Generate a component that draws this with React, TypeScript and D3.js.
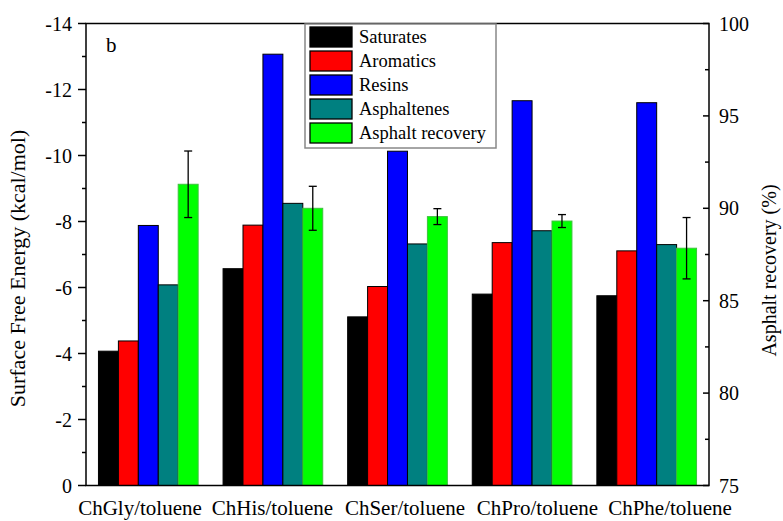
import React from "react";
import * as d3 from "d3";

const categories = ["ChGly/toluene", "ChHis/toluene", "ChSer/toluene", "ChPro/toluene", "ChPhe/toluene"];
const saturates = [-4.07, -6.57, -5.11, -5.80, -5.75];
const aromatics = [-4.38, -7.89, -6.03, -7.36, -7.11];
const resins = [-7.88, -13.07, -10.13, -11.66, -11.60];
const asphaltenes = [-6.08, -8.55, -7.32, -7.72, -7.30];
const recovery = [91.3, 90.0, 89.55, 89.31, 87.84];
const recoveryErr = [1.8, 1.19, 0.43, 0.35, 1.66];
const leftTicks = [0, -2, -4, -6, -8, -10, -12, -14];
const rightTicks = [75, 80, 85, 90, 95, 100];
const seriesNames = ["Saturates", "Aromatics", "Resins", "Asphaltenes", "Asphalt recovery"];
const seriesColors = ["#000000", "#ff0000", "#0000ff", "#008080", "#00ff00"];

const W = 783;
const H = 521;
const FONT = "'Liberation Serif', 'Times New Roman', serif";

export default function App() {
  const left = 86, right = 709, top = 23.5, bottom = 485.5;
  const x = d3.scaleBand<string>().domain(categories).range([left, right]).paddingInner(0.2).paddingOuter(0.1);
  const inner = d3.scaleBand<number>().domain([0, 1, 2, 3, 4]).range([0, x.bandwidth()]);
  const yL = d3.scaleLinear().domain([0, -14]).range([bottom, top]);
  const yR = d3.scaleLinear().domain([75, 100]).range([bottom, top]);
  const labelX = d3.scalePoint<string>().domain(categories).range([left + 54, right - 39]);

  const energySeries = [saturates, aromatics, resins, asphaltenes];
  const leftMinor = d3.range(-1, -14, -2);
  const rightMinor = d3.range(77.5, 100, 5);

  return (
    <svg width={W} height={H} style={{ position: "absolute", left: 0, top: 0, background: "#fff" }} fontFamily={FONT}>
      <rect x={0} y={0} width={W} height={H} fill="#fff" />
      {/* bars */}
      {categories.map((c, i) => (
        <g key={c} transform={`translate(${x(c)},0)`}>
          {energySeries.map((s, k) => (
            <rect key={k} x={inner(k)} y={yL(s[i])} width={inner.bandwidth()} height={yL(0) - yL(s[i])}
              fill={seriesColors[k]} stroke="#000" strokeWidth={1} />
          ))}
          <rect x={inner(4)} y={yR(recovery[i])} width={inner.bandwidth()} height={yR(75) - yR(recovery[i])}
            fill={seriesColors[4]} stroke="#3cc43c" strokeWidth={1} />
          {(() => {
            const cx = (inner(4) as number) + inner.bandwidth() / 2;
            const y1 = yR(recovery[i] + recoveryErr[i]);
            const y2 = yR(recovery[i] - recoveryErr[i]);
            return (
              <g stroke="#000" strokeWidth={1.3}>
                <line x1={cx} x2={cx} y1={y1} y2={y2} />
                <line x1={cx - 4} x2={cx + 4} y1={y1} y2={y1} />
                <line x1={cx - 4} x2={cx + 4} y1={y2} y2={y2} />
              </g>
            );
          })()}
        </g>
      ))}
      {/* frame */}
      <rect x={left} y={top} width={right - left} height={bottom - top} fill="none" stroke="#000" strokeWidth={1.5} />
      {/* left ticks */}
      {leftTicks.map((t) => (
        <g key={t}>
          <line x1={left - 8} x2={left} y1={yL(t)} y2={yL(t)} stroke="#000" strokeWidth={1.5} />
          <text x={left - 14} y={yL(t)} dy="0.35em" textAnchor="end" fontSize={20}>{t}</text>
        </g>
      ))}
      {leftMinor.map((t) => (
        <line key={t} x1={left - 4} x2={left} y1={yL(t)} y2={yL(t)} stroke="#000" strokeWidth={1.5} />
      ))}
      {/* right ticks */}
      {rightTicks.map((t) => (
        <g key={t}>
          <line x1={right - 6} x2={right} y1={yR(t)} y2={yR(t)} stroke="#000" strokeWidth={1.5} />
          <text x={right + 10} y={yR(t)} dy="0.35em" textAnchor="start" fontSize={20}>{t}</text>
        </g>
      ))}
      {rightMinor.map((t) => (
        <line key={t} x1={right - 4} x2={right} y1={yR(t)} y2={yR(t)} stroke="#000" strokeWidth={1.5} />
      ))}
      {/* category labels */}
      {categories.map((c) => (
        <text key={c} x={labelX(c)} y={515} textAnchor="middle" fontSize={21}>{c}</text>
      ))}
      {/* axis titles */}
      <text transform={`translate(25,${(top + bottom) / 2 + 14}) rotate(-90)`} textAnchor="middle" fontSize={22}>
        Surface Free Energy (kcal/mol)
      </text>
      <text transform={`translate(776,${(top + bottom) / 2 + 16}) rotate(-90)`} textAnchor="middle" fontSize={20}>
        Asphalt recovery (%)
      </text>
      <text x={106} y={52} fontSize={21}>b</text>
      {/* legend */}
      <g>
        <rect x={305} y={24} width={191} height={124} fill="#fff" stroke="#888" strokeWidth={1.5} />
        {seriesNames.map((n, k) => (
          <g key={n} transform={`translate(310,${27 + k * 24})`}>
            <rect x={0} y={0} width={42} height={20} fill={seriesColors[k]} stroke="#000" strokeWidth={1.3} />
            <text x={49} y={10} dy="0.35em" fontSize={18.5}>{n}</text>
          </g>
        ))}
      </g>
    </svg>
  );
}
